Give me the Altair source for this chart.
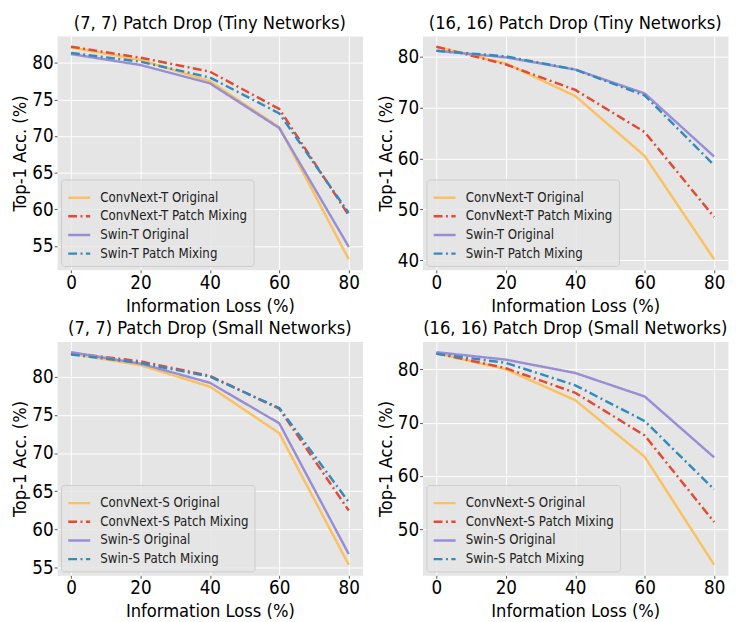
import altair as alt
import pandas as pd

loss = [0, 20, 40, 60, 80]

tiny77_convnext_orig = [82.1, 80.4, 77.5, 71.2, 53.2]
tiny77_convnext_pm = [82.2, 80.7, 78.8, 73.7, 59.2]
tiny77_swin_orig = [81.2, 79.7, 77.2, 71.1, 54.9]
tiny77_swin_pm = [81.35, 80.15, 78.0, 73.1, 59.5]

tiny1616_convnext_orig = [82.0, 78.7, 72.3, 60.5, 40.2]
tiny1616_convnext_pm = [82.0, 78.5, 73.5, 65.2, 48.5]
tiny1616_swin_orig = [81.2, 79.9, 77.5, 72.8, 60.4]
tiny1616_swin_pm = [81.2, 80.1, 77.5, 72.4, 58.7]

small77_convnext_orig = [83.0, 81.5, 78.7, 72.6, 55.4]
small77_convnext_pm = [83.1, 82.0, 80.1, 75.8, 62.5]
small77_swin_orig = [83.2, 81.7, 79.2, 73.9, 56.8]
small77_swin_pm = [82.9, 81.8, 80.0, 75.9, 63.6]

small1616_convnext_orig = [83.0, 80.0, 74.2, 63.6, 43.4]
small1616_convnext_pm = [83.0, 80.2, 75.6, 67.6, 51.4]
small1616_swin_orig = [83.2, 81.8, 79.3, 74.9, 63.5]
small1616_swin_pm = [82.9, 81.2, 77.0, 70.3, 57.5]

tiny_names = ["ConvNext-T Original", "ConvNext-T Patch Mixing", "Swin-T Original", "Swin-T Patch Mixing"]
small_names = ["ConvNext-S Original", "ConvNext-S Patch Mixing", "Swin-S Original", "Swin-S Patch Mixing"]

titles = [
    "(7, 7) Patch Drop (Tiny Networks)",
    "(16, 16) Patch Drop (Tiny Networks)",
    "(7, 7) Patch Drop (Small Networks)",
    "(16, 16) Patch Drop (Small Networks)",
]
yticks_a = [55, 60, 65, 70, 75, 80]
yticks_b = [40, 50, 60, 70, 80]
yticks_c = [50, 60, 70, 80]

colors = ["#FBC15E", "#E24A33", "#988ED5", "#348ABD"]
dashdot = [9, 3.5, 2, 3.5]
dashes = [[1, 0], dashdot, [1, 0], dashdot]

W, H = 311, 238


def panel(title, names, series, yticks):
    rows = []
    for name, vals in zip(names, series):
        for x, v in zip(loss, vals):
            rows.append({"loss": x, "acc": v, "series": name})
    df = pd.DataFrame(rows)
    allv = [v for s in series for v in s]
    lo, hi = min(allv), max(allv)
    r = hi - lo
    dom = [lo - 0.05 * r, hi + 0.05 * r]
    return (
        alt.Chart(df, title=title)
        .mark_line(strokeWidth=2.5, strokeCap="butt")
        .encode(
            x=alt.X("loss:Q", title="Information Loss (%)",
                    scale=alt.Scale(domain=[-4, 84], nice=False, zero=False),
                    axis=alt.Axis(values=loss, format="d")),
            y=alt.Y("acc:Q", title="Top-1 Acc. (%)",
                    scale=alt.Scale(domain=dom, nice=False, zero=False),
                    axis=alt.Axis(values=yticks, format="d")),
            color=alt.Color("series:N", scale=alt.Scale(domain=names, range=colors),
                            legend=alt.Legend(title=None)),
            strokeDash=alt.StrokeDash("series:N", scale=alt.Scale(domain=names, range=dashes),
                                      legend=alt.Legend(title=None)),
            detail="series:N",
        )
        .properties(width=W, height=H)
    )


p1 = panel(titles[0], tiny_names,
           [tiny77_convnext_orig, tiny77_convnext_pm, tiny77_swin_orig, tiny77_swin_pm], yticks_a)
p2 = panel(titles[1], tiny_names,
           [tiny1616_convnext_orig, tiny1616_convnext_pm, tiny1616_swin_orig, tiny1616_swin_pm], yticks_b)
p3 = panel(titles[2], small_names,
           [small77_convnext_orig, small77_convnext_pm, small77_swin_orig, small77_swin_pm], yticks_a)
p4 = panel(titles[3], small_names,
           [small1616_convnext_orig, small1616_convnext_pm, small1616_swin_orig, small1616_swin_pm], yticks_c)


def res(c):
    return c.resolve_scale(color="independent", strokeDash="independent", y="independent", x="independent") \
            .resolve_legend(color="independent", strokeDash="independent")


row1 = res(alt.hconcat(p1, p2, spacing=12))
row2 = res(alt.hconcat(p3, p4, spacing=12))
chart = res(alt.vconcat(row1, row2, spacing=4))

FONT = "DejaVu Sans Condensed, DejaVu Sans"
chart = (
    chart.properties(padding={"left": 2, "top": 0, "right": 0, "bottom": 0}, background="white")
    .configure_view(fill="#E5E5E5", stroke="transparent")
    .configure_axis(
        labelFont=FONT, titleFont=FONT, labelFontSize=19, titleFontSize=18.5,
        titleFontWeight="normal", labelColor="#000000", titleColor="#000000",
        tickColor="#555555", tickSize=3, labelPadding=1, titlePadding=4,
        domain=False, gridColor="#FFFFFF", gridWidth=1,
    )
    .configure_axisY(titlePadding=2)
    .configure_title(font=FONT, fontSize=18.5, fontWeight="normal", color="#000000", offset=0)
    .configure_legend(
        orient="bottom-left", offset=4, labelFont=FONT, labelFontSize=13.4, labelColor="#222222",
        symbolType="stroke", symbolSize=500, symbolStrokeWidth=2.5, labelOffset=9,
        rowPadding=-6, padding=6, fillColor="rgba(229,229,229,0.8)", strokeColor="#CCCCCC",
        cornerRadius=3, labelLimit=300,
    )
)

chart.save("out.html", embed_options={"renderer": "svg", "actions": False})
